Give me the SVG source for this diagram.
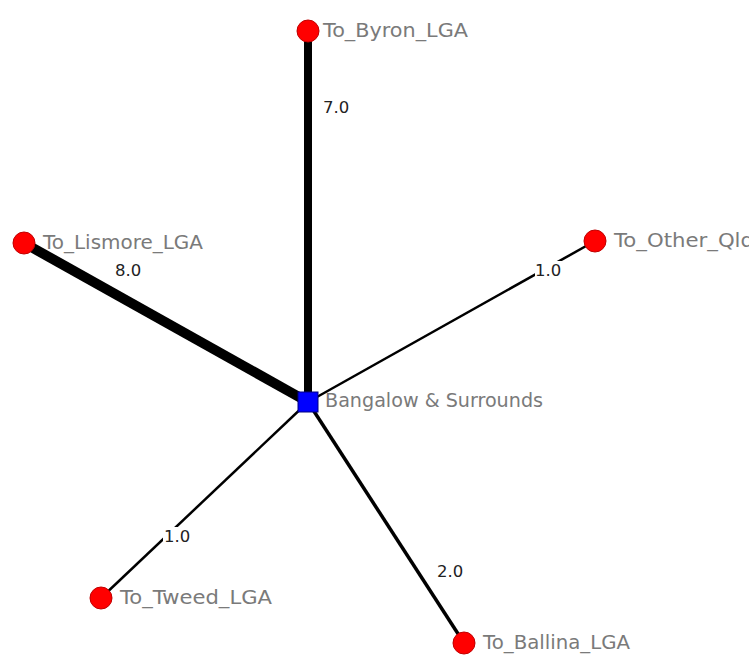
<svg xmlns="http://www.w3.org/2000/svg" width="749" height="657" viewBox="0 0 749 657">
<style>
.edge{stroke:#000;fill:none;stroke-linecap:butt}
.node{fill:#ff0000;stroke:#c00000;stroke-width:1}
.lbl{font-family:"DejaVu Sans","Liberation Sans",sans-serif;font-size:19px;fill:#7a7a7a}
.elbl{font-family:"DejaVu Sans","Liberation Sans",sans-serif;font-size:16.5px;fill:#222}
.bg{fill:#fff}
</style>
<rect width="749" height="657" fill="#fff"/>
<g id="connectors">
<line class="edge" x1="308" y1="402" x2="308" y2="31" stroke-width="8"/>
<line class="edge" x1="308" y1="402" x2="24" y2="243" stroke-width="10"/>
<line class="edge" x1="308" y1="402" x2="595" y2="241" stroke-width="2.5"/>
<line class="edge" x1="308" y1="402" x2="101" y2="598" stroke-width="2.5"/>
<line class="edge" x1="308" y1="402" x2="464" y2="643" stroke-width="3.5"/>
<rect class="bg" x="535" y="261" width="27" height="18"/>
<rect class="bg" x="163" y="527" width="27" height="18"/>
<text class="elbl" x="323" y="113">7.0</text>
<text class="elbl" x="115" y="276">8.0</text>
<text class="elbl" x="535" y="276">1.0</text>
<text class="elbl" x="164" y="542">1.0</text>
<text class="elbl" x="437" y="577">2.0</text>
</g>
<g id="center">
<rect x="298" y="392" width="20" height="20" fill="#0000ff" stroke="#000080" stroke-width="1"/>
<text class="lbl" x="325" y="407" textLength="218" lengthAdjust="spacingAndGlyphs">Bangalow &amp; Surrounds</text>
</g>
<g id="byron">
<circle class="node" cx="308" cy="31" r="11"/>
<text class="lbl" x="323" y="37" textLength="145" lengthAdjust="spacingAndGlyphs">To_Byron_LGA</text>
</g>
<g id="lismore">
<circle class="node" cx="24" cy="243" r="11"/>
<text class="lbl" x="43" y="249" textLength="160" lengthAdjust="spacingAndGlyphs">To_Lismore_LGA</text>
</g>
<g id="otherqld">
<circle class="node" cx="595" cy="241" r="11"/>
<text class="lbl" x="614" y="247" textLength="140" lengthAdjust="spacingAndGlyphs">To_Other_Qld</text>
</g>
<g id="tweed">
<circle class="node" cx="101" cy="598" r="11"/>
<text class="lbl" x="120" y="604" textLength="152" lengthAdjust="spacingAndGlyphs">To_Tweed_LGA</text>
</g>
<g id="ballina">
<circle class="node" cx="464" cy="643" r="11"/>
<text class="lbl" x="483" y="649" textLength="147" lengthAdjust="spacingAndGlyphs">To_Ballina_LGA</text>
</g>
</svg>
